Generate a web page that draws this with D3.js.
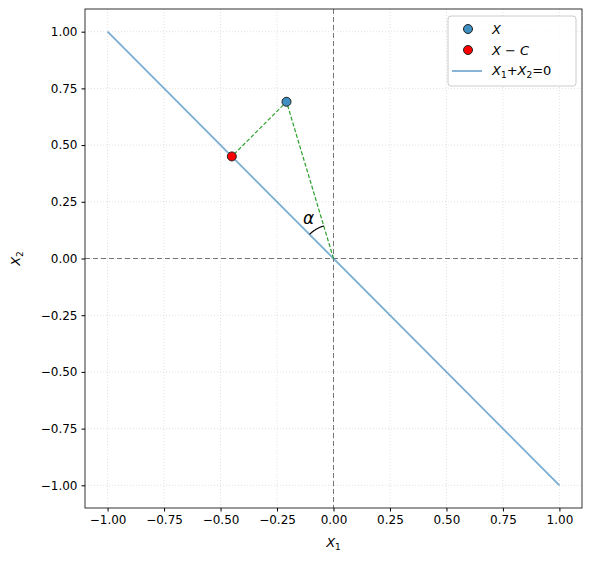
<!DOCTYPE html>
<html><head><meta charset="utf-8">
<script src="https://cdn.jsdelivr.net/npm/d3@7"></script>
<style>body{margin:0;background:#fff}text{font-family:"DejaVu Sans",sans-serif}</style>
</head><body>
<script>
// data
var lineXs = [-1, 1];
var pointX = [-0.208, 0.691];
var pointXC = [-0.45, 0.45];
var ticks = [-1, -0.75, -0.5, -0.25, 0, 0.25, 0.5, 0.75, 1];
var arcR = 0.15;
var alphaPos = [-0.11, 0.175];

var W = 591, H = 563, L = 85, R = 582, T = 9, B = 508;
var svg = d3.select("body").append("svg").attr("width", W).attr("height", H);
var x = d3.scaleLinear().domain([-1.1, 1.1]).range([L, R]);
var y = d3.scaleLinear().domain([-1.1, 1.1]).range([B, T]);

// grid
var g = svg.append("g");
ticks.forEach(function(t) {
  g.append("line").attr("x1", x(t)).attr("x2", x(t)).attr("y1", T).attr("y2", B)
    .attr("stroke", "#ccc").attr("stroke-width", 0.6).attr("stroke-dasharray", "1,2");
  g.append("line").attr("y1", y(t)).attr("y2", y(t)).attr("x1", L).attr("x2", R)
    .attr("stroke", "#ccc").attr("stroke-width", 0.6).attr("stroke-dasharray", "1,2");
});

// zero lines
svg.append("line").attr("x1", L).attr("x2", R).attr("y1", y(0)).attr("y2", y(0))
  .attr("stroke", "#777").attr("stroke-dasharray", "5,3");
svg.append("line").attr("x1", x(0)).attr("x2", x(0)).attr("y1", T).attr("y2", B)
  .attr("stroke", "#777").attr("stroke-dasharray", "5,3");

// main line
svg.append("line").attr("x1", x(lineXs[0])).attr("y1", y(-lineXs[0]))
  .attr("x2", x(lineXs[1])).attr("y2", y(-lineXs[1]))
  .attr("stroke", "#1f77b4").attr("stroke-opacity", 0.6).attr("stroke-width", 1.8);

// green dashed
var gp = [[0, 0], pointX, pointXC];
svg.append("path").attr("d", d3.line().x(function(d){return x(d[0]);}).y(function(d){return y(d[1]);})(gp))
  .attr("fill", "none").attr("stroke", "#2ca02c").attr("stroke-width", 1.2).attr("stroke-dasharray", "4,2");

// angle arc
var a1 = Math.atan2(pointX[1], pointX[0]), a2 = 3 * Math.PI / 4, arcPts = [];
for (var i = 0; i <= 30; i++) {
  var a = a1 + (a2 - a1) * i / 30;
  arcPts.push([arcR * Math.cos(a), arcR * Math.sin(a)]);
}
svg.append("path").attr("d", d3.line().x(function(d){return x(d[0]);}).y(function(d){return y(d[1]);})(arcPts))
  .attr("fill", "none").attr("stroke", "#000").attr("stroke-width", 1.2);
svg.append("text").attr("x", x(alphaPos[0])).attr("y", y(alphaPos[1])).attr("text-anchor", "middle")
  .attr("dominant-baseline", "middle").attr("font-size", 17).attr("font-style", "italic").text("α");

// points
svg.append("circle").attr("cx", x(pointX[0])).attr("cy", y(pointX[1])).attr("r", 4.5)
  .attr("fill", "#3f8fc0").attr("stroke", "#222").attr("stroke-width", 1);
svg.append("circle").attr("cx", x(pointXC[0])).attr("cy", y(pointXC[1])).attr("r", 4.5)
  .attr("fill", "#f00").attr("stroke", "#222").attr("stroke-width", 1);

// frame
svg.append("rect").attr("x", L).attr("y", T).attr("width", R - L).attr("height", B - T)
  .attr("fill", "none").attr("stroke", "#000").attr("stroke-width", 0.8);

// axes
var fmt = d3.format(".2f");
var fm = function(d){ return fmt(d).replace("-", "\u2212"); };
svg.append("g").attr("transform", "translate(0," + B + ")")
  .call(d3.axisBottom(x).tickValues(ticks).tickFormat(fm).tickSize(3.5).tickPadding(4))
  .call(function(s){ s.select(".domain").remove(); s.selectAll("text").attr("font-size", 12); });
svg.append("g").attr("transform", "translate(" + L + ",0)")
  .call(d3.axisLeft(y).tickValues(ticks).tickFormat(fm).tickSize(3.5).tickPadding(4))
  .call(function(s){ s.select(".domain").remove(); s.selectAll("text").attr("font-size", 12); });

svg.append("text").attr("x", (L + R) / 2).attr("y", 547).attr("text-anchor", "middle").attr("font-size", 13)
  .html('<tspan font-style="italic">X</tspan><tspan font-size="9" dy="3">1</tspan>');
svg.append("text").attr("transform", "translate(20," + (T + B) / 2 + ") rotate(-90)").attr("text-anchor", "middle").attr("font-size", 13)
  .html('<tspan font-style="italic">X</tspan><tspan font-size="9" dy="3">2</tspan>');

// legend
var lg = svg.append("g").attr("transform", "translate(448,16)");
lg.append("rect").attr("width", 128).attr("height", 70).attr("rx", 3).attr("fill", "#fff")
  .attr("fill-opacity", 0.8).attr("stroke", "#ccc");
lg.append("circle").attr("cx", 20).attr("cy", 13).attr("r", 4.5).attr("fill", "#3f8fc0").attr("stroke", "#222");
lg.append("circle").attr("cx", 20).attr("cy", 34).attr("r", 4.5).attr("fill", "#f00").attr("stroke", "#222");
lg.append("line").attr("x1", 4).attr("x2", 34).attr("y1", 55).attr("y2", 55)
  .attr("stroke", "#1f77b4").attr("stroke-opacity", 0.6).attr("stroke-width", 1.8);
lg.append("text").attr("x", 44).attr("y", 18).attr("font-size", 13).attr("font-style", "italic").text("X");
lg.append("text").attr("x", 44).attr("y", 39).attr("font-size", 13)
  .html('<tspan font-style="italic">X</tspan> \u2212 <tspan font-style="italic">C</tspan>');
lg.append("text").attr("x", 44).attr("y", 59).attr("font-size", 13)
  .html('<tspan font-style="italic">X</tspan><tspan font-size="9" dy="3">1</tspan><tspan dy="-3">+</tspan><tspan font-style="italic">X</tspan><tspan font-size="9" dy="3">2</tspan><tspan dy="-3">=0</tspan>');
</script>
</body></html>
